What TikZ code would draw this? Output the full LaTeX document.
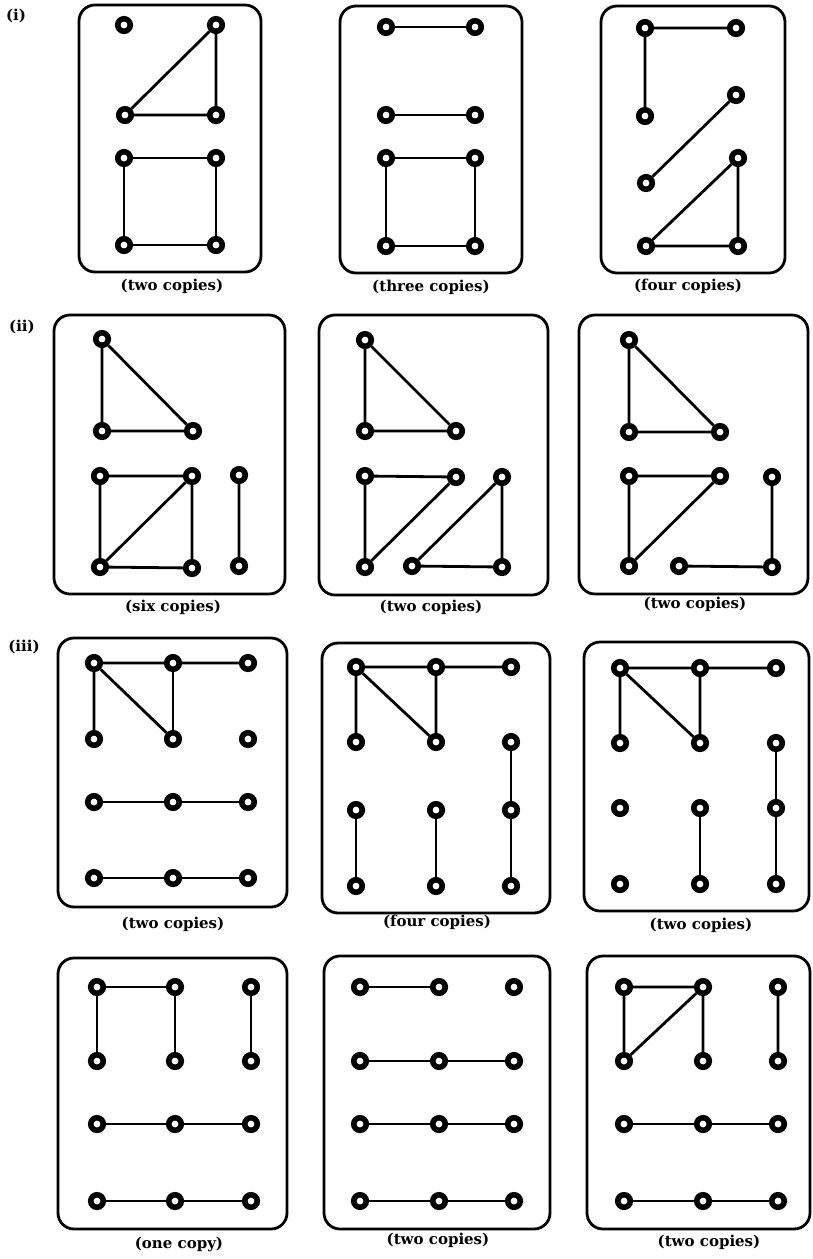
\documentclass[tikz,border=0pt]{standalone}
\usepackage{fontspec}
\setmainfont{DejaVu Serif}
\begin{document}
\begin{tikzpicture}[x=1pt,y=-1pt,
  v/.style={circle,draw,line width=5.6pt,fill=white,inner sep=0pt,minimum size=12.5pt},
  e/.style={line width=2.8pt},
  frame/.style={draw,line width=2.8pt,rounded corners=16pt},
  captxt/.style={font=\bfseries\fontsize{15}{17}\selectfont,inner sep=0pt},
  lab/.style={font=\bfseries\fontsize{15}{17}\selectfont,inner sep=0pt}]
\useasboundingbox[fill=white] (0,0) rectangle (812,1259);

% ---------- labels ----------
\node[lab] (li) at (16,16) {(i)};
\node[lab] (lii) at (22,327) {(ii)};
\node[lab] (liii) at (24,647) {(iii)};

% ================= ROW (i) =================
\draw[frame] (79,5) rectangle (261,272);
\node[v] (a1) at (124,25) {};
\node[v] (a2) at (216,25) {};
\node[v] (a3) at (125,115) {};
\node[v] (a4) at (216,115) {};
\node[v] (a5) at (124,158) {};
\node[v] (a6) at (216,158) {};
\node[v] (a7) at (124,245) {};
\node[v] (a8) at (216,245) {};
\draw[e] (a2)--(a3) (a2)--(a4) (a3)--(a4);
\draw[e] (a5)--(a6) (a5)--(a7) (a6)--(a8) (a7)--(a8);
\node[captxt] (ca) at (172,286) {(two copies)};

\draw[frame] (340,6) rectangle (522,273);
\node[v] (b1) at (386,27) {};
\node[v] (b2) at (475,27) {};
\node[v] (b3) at (386,115) {};
\node[v] (b4) at (475,115) {};
\node[v] (b5) at (386,158) {};
\node[v] (b6) at (475,158) {};
\node[v] (b7) at (386,246) {};
\node[v] (b8) at (475,246) {};
\draw[e] (b1)--(b2) (b3)--(b4);
\draw[e] (b5)--(b6) (b5)--(b7) (b6)--(b8) (b7)--(b8);
\node[captxt] (cb) at (431,287) {(three copies)};

\draw[frame] (601,6) rectangle (785,273);
\node[v] (d1) at (645,28) {};
\node[v] (d2) at (736,28) {};
\node[v] (d3) at (645,116) {};
\node[v] (d4) at (736,95) {};
\node[v] (d5) at (646,183) {};
\node[v] (d6) at (738,158) {};
\node[v] (d7) at (646,246) {};
\node[v] (d8) at (738,246) {};
\draw[e] (d1)--(d2) (d1)--(d3) (d4)--(d5);
\draw[e] (d6)--(d7) (d6)--(d8) (d7)--(d8);
\node[captxt] (cd) at (688,286) {(four copies)};

% ================= ROW (ii) =================
\draw[frame] (54,315) rectangle (285,594);
\node[v] (f1) at (102,339) {};
\node[v] (f2) at (102,431) {};
\node[v] (f3) at (193,431) {};
\node[v] (f4) at (100,476) {};
\node[v] (f5) at (192,476) {};
\node[v] (f6) at (239,475) {};
\node[v] (f7) at (100,567) {};
\node[v] (f8) at (192,568) {};
\node[v] (f9) at (239,566) {};
\draw[e] (f1)--(f2) (f1)--(f3) (f2)--(f3);
\draw[e] (f4)--(f5) (f4)--(f7) (f5)--(f8) (f5)--(f7) (f7)--(f8) (f6)--(f9);
\node[captxt] (cf) at (173,607) {(six copies)};

\draw[frame] (319,315) rectangle (548,595);
\node[v] (g1) at (365,340) {};
\node[v] (g2) at (365,431) {};
\node[v] (g3) at (456,431) {};
\node[v] (g4) at (365,476) {};
\node[v] (g5) at (456,477) {};
\node[v] (g6) at (502,477) {};
\node[v] (g7) at (365,567) {};
\node[v] (g8) at (412,566) {};
\node[v] (g9) at (502,567) {};
\draw[e] (g1)--(g2) (g1)--(g3) (g2)--(g3);
\draw[e] (g4)--(g5) (g4)--(g7) (g5)--(g7);
\draw[e] (g6)--(g8) (g6)--(g9) (g8)--(g9);
\node[captxt] (cg) at (431,607) {(two copies)};

\draw[frame] (579,315) rectangle (808,594);
\node[v] (h1) at (629,340) {};
\node[v] (h2) at (629,432) {};
\node[v] (h3) at (720,432) {};
\node[v] (h4) at (629,476) {};
\node[v] (h5) at (720,476) {};
\node[v] (h6) at (772,477) {};
\node[v] (h7) at (629,566) {};
\node[v] (h8) at (679,566) {};
\node[v] (h9) at (772,567) {};
\draw[e] (h1)--(h2) (h1)--(h3) (h2)--(h3);
\draw[e] (h4)--(h5) (h4)--(h7) (h5)--(h7);
\draw[e] (h6)--(h9) (h8)--(h9);
\node[captxt] (ch) at (695,604) {(two copies)};

% ================= ROW (iii) upper =================
\draw[frame] (58,638) rectangle (287,907);
\foreach \c/\x in {0/94,1/173,2/248}
  \foreach \r/\y in {0/663,1/739,2/802,3/878}
    \node[v] (p\r\c) at (\x,\y) {};
\draw[e] (p00)--(p01) (p01)--(p02) (p00)--(p10) (p00)--(p11);
\draw[line width=1.8pt] (p01)--(p11);
\draw[e] (p20)--(p21) (p21)--(p22) (p30)--(p31) (p31)--(p32);
\node[captxt] (cp) at (173,924) {(two copies)};

\draw[frame] (322,643) rectangle (550,913);
\foreach \c/\x in {0/356,1/436,2/511}
  \foreach \r/\y in {0/667,1/742,2/810,3/886}
    \node[v] (q\r\c) at (\x,\y) {};
\draw[e] (q00)--(q01) (q01)--(q02) (q00)--(q10) (q00)--(q11) (q01)--(q11);
\draw[e] (q12)--(q22) (q22)--(q32) (q20)--(q30) (q21)--(q31);
\node[captxt] (cq) at (437,922) {(four copies)};

\draw[frame] (584,642) rectangle (809,911);
\foreach \c/\x in {0/620,1/700,2/776}
  \foreach \r/\y in {0/668,1/743,2/808,3/884}
    \node[v] (s\r\c) at (\x,\y) {};
\draw[e] (s00)--(s01) (s01)--(s02) (s00)--(s10) (s00)--(s11) (s01)--(s11);
\draw[e] (s12)--(s22) (s22)--(s32) (s21)--(s31);
\node[captxt] (cs) at (701,925) {(two copies)};

% ================= ROW (iii) lower =================
\draw[frame] (58,958) rectangle (287,1229);
\foreach \c/\x in {0/97,1/175,2/251}
  \foreach \r/\y in {0/987,1/1061,2/1124,3/1201}
    \node[v] (t\r\c) at (\x,\y) {};
\draw[e] (t00)--(t01) (t00)--(t10) (t01)--(t11) (t02)--(t12);
\draw[e] (t20)--(t21) (t21)--(t22) (t30)--(t31) (t31)--(t32);
\node[captxt] (ct) at (179,1244) {(one copy)};

\draw[frame] (324,956) rectangle (550,1229);
\foreach \c/\x in {0/360,1/439,2/514}
  \foreach \r/\y in {0/987,1/1061,2/1124,3/1201}
    \node[v] (u\r\c) at (\x,\y) {};
\draw[e] (u00)--(u01) (u10)--(u11) (u11)--(u12);
\draw[e] (u20)--(u21) (u21)--(u22) (u30)--(u31) (u31)--(u32);
\node[captxt] (cu) at (438,1240) {(two copies)};

\draw[frame] (587,956) rectangle (810,1229);
\foreach \c/\x in {0/624,1/703,2/778}
  \foreach \r/\y in {0/987,1/1061,2/1124,3/1201}
    \node[v] (w\r\c) at (\x,\y) {};
\draw[e] (w00)--(w01) (w00)--(w10) (w01)--(w10) (w01)--(w11) (w02)--(w12);
\draw[e] (w20)--(w21) (w21)--(w22) (w30)--(w31) (w31)--(w32);
\node[captxt] (cw) at (709,1242) {(two copies)};
\end{tikzpicture}
\end{document}
